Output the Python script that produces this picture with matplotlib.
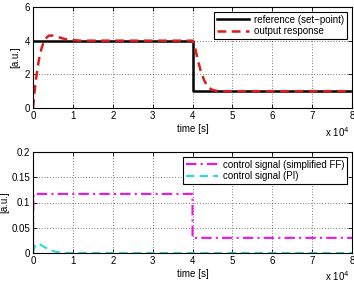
import matplotlib
matplotlib.use("Agg")
import matplotlib.pyplot as plt
from matplotlib.ticker import FuncFormatter

plt.rcParams['font.family'] = ['Liberation Sans', 'DejaVu Sans']
plt.rcParams['font.size'] = 7

# time in units of 1e4 s
t_ref = [0, 4, 4, 8]
ref = [4, 4, 1, 1]

t_out = [0, 0.03, 0.08, 0.15, 0.22, 0.3, 0.4, 0.5, 0.65, 0.8, 1.0, 1.2, 4.0,
         4.05, 4.1, 4.15, 4.2, 4.3, 4.4, 4.5, 4.6, 4.7, 8.0]
out = [0, 0.8, 1.8, 2.9, 3.6, 4.1, 4.3, 4.3, 4.2, 4.1, 4.03, 4.0, 4.0,
       3.75, 3.2, 2.7, 2.25, 1.6, 1.22, 1.07, 1.02, 1.0, 1.0]

t_ff = [0, 0.01, 4.0, 4.0, 8.0]
ff = [0.0, 0.117, 0.117, 0.03, 0.03]

t_pi = [0, 0.05, 0.1, 0.2, 0.3, 0.4, 0.5, 0.6, 0.7, 0.8, 8.0]
pi = [0.0, 0.015, 0.019, 0.016, 0.011, 0.007, 0.004, 0.002, 0.001, 0.0, 0.0]

xticks = [0, 1, 2, 3, 4, 5, 6, 7, 8]

fig = plt.figure(figsize=(3.54, 2.88), dpi=100)
ax1 = fig.add_axes([33/354, 1 - 108/288, 319/354, 101/288])
ax2 = fig.add_axes([33/354, 1 - 253/288, 319/354, 101/288])

sc = 1e4
ax1.plot([v*sc for v in t_ref], ref, color='black', lw=1.8, label='reference (set\u2212point)')
ax1.plot([v*sc for v in t_out], out, color='#dd1c1c', lw=1.8, ls=(0, (3.5, 2.2)), label='output response')
ax1.set_ylim(0, 6)
ax1.set_yticks([0, 2, 4, 6])

ax2.plot([v*sc for v in t_ff], ff, color='#ee11ee', lw=1.5, ls=(0, (5, 2, 1, 2)), label='control signal (simplified FF)')
ax2.plot([v*sc for v in t_pi], pi, color='#22dddd', lw=1.5, ls=(0, (4, 2.5)), label='control signal (PI)')
ax2.set_ylim(0, 0.2)
ax2.set_yticks([0, 0.05, 0.1, 0.15, 0.2])
ax2.yaxis.set_major_formatter(FuncFormatter(lambda v, p: ('%g' % v)))

for ax in (ax1, ax2):
    ax.set_xlim(0, 8e4)
    ax.set_xticks([v*sc for v in xticks])
    ax.xaxis.set_major_formatter(FuncFormatter(lambda v, p: '%d' % round(v/1e4)))
    ax.grid(True, color='black', ls=(0, (1, 3)), lw=0.5)
    ax.tick_params(direction='in', top=True, right=True, length=3, width=0.6, pad=2, labelsize=7)
    for s in ax.spines.values():
        s.set_linewidth(0.8)
    ax.set_xlabel('time [s]', labelpad=2)
    leg = ax.legend(loc='upper right', fontsize=7, handlelength=3.3, borderpad=0.3,
                    labelspacing=0.15, handletextpad=0.5, borderaxespad=0.5, fancybox=False, framealpha=1)
    leg.get_frame().set_edgecolor('black')
    leg.get_frame().set_linewidth(0.8)

ax1.set_ylabel('[a.u.]', labelpad=3)
ax2.set_ylabel('[a.u.]')
ax2.yaxis.set_label_coords(-24/319, 0.5)

for ybase in (137, 281):
    fig.text(350/354, 1 - ybase/288, 'x 10$^4$', ha='right', va='baseline', fontsize=7)

fig.savefig('out.png', dpi=100)
